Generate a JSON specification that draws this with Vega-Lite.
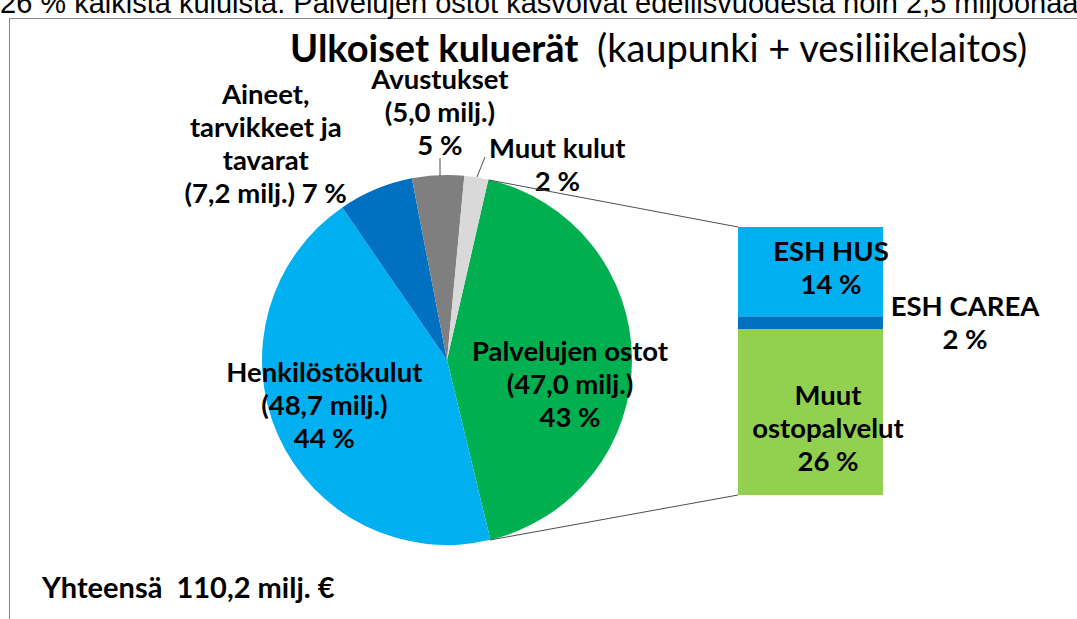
{
  "$schema": "https://vega.github.io/schema/vega-lite/v6.json",
  "width": 1068,
  "height": 601,
  "autosize": {"type": "none"},
  "padding": {"left": 9, "top": 18, "right": 0, "bottom": 0},
  "background": "white",
  "config": {"view": {"stroke": "#858585", "strokeWidth": 1}, "text": {"font": "Lato"}},
  "datasets": {
    "pie": [
      {"cat": "Palvelujen ostot", "ord": 1, "value": 47.0, "label": ["Palvelujen ostot", "(47,0 milj.)", "43 %"]},
      {"cat": "Henkilöstökulut", "ord": 2, "value": 48.7, "label": ["Henkilöstökulut", "(48,7 milj.)", "44 %"]},
      {"cat": "Aineet, tarvikkeet ja tavarat", "ord": 3, "value": 7.2, "label": ["Aineet,", "tarvikkeet ja", "tavarat", "(7,2 milj.) 7 %"]},
      {"cat": "Avustukset", "ord": 4, "value": 5.0, "label": ["Avustukset", "(5,0 milj.)", "5 %"]},
      {"cat": "Muut kulut", "ord": 5, "value": 2.3, "label": ["Muut kulut", "2 %"]}
    ],
    "bar": [
      {"cat": "Muut ostopalvelut", "ord": 1, "pct": 26, "label": ["Muut", "ostopalvelut", "26 %"]},
      {"cat": "ESH CAREA", "ord": 2, "pct": 2, "label": ["ESH CAREA", "2 %"]},
      {"cat": "ESH HUS", "ord": 3, "pct": 14, "label": ["ESH HUS", "14 %"]}
    ],
    "notes": [
      {"id": "title", "text": "Ulkoiset kuluerät"},
      {"id": "subtitle", "text": "(kaupunki + vesiliikelaitos)"},
      {"id": "total", "text": "Yhteensä\u00a0 110,2 milj. €"},
      {"id": "top", "text": "26 % kaikista kuluista. Palvelujen ostot kasvoivat edellisvuodesta noin 2,5 miljoonaa"}
    ]
  },
  "resolve": {"scale": {"y": "independent", "color": "independent"}},
  "layer": [
    {
      "layer": [
        {
          "data": {"name": "pie"},
          "mark": {"type": "arc", "outerRadius": 185},
          "encoding": {
            "x": {"datum": 447, "type": "quantitative", "scale": {"domain": [9, 1077], "nice": false, "zero": false}, "axis": null},
            "y": {"datum": 360, "type": "quantitative", "scale": {"domain": [18, 619], "reverse": true, "nice": false, "zero": false}, "axis": null},
            "theta": {"field": "value", "type": "quantitative", "stack": true, "scale": {"domain": [0, 110.2], "range": [0.225, 6.5082]}},
            "order": {"field": "ord", "type": "quantitative"},
            "color": {"field": "cat", "type": "nominal", "legend": null, "scale": {"domain": ["Palvelujen ostot", "Henkilöstökulut", "Aineet, tarvikkeet ja tavarat", "Avustukset", "Muut kulut"], "range": ["#00B050", "#00B0F0", "#0070C0", "#7F7F7F", "#D9D9D9"]}}
          }
        },
        {
          "data": {"name": "pie"},
          "mark": {"type": "text", "radius": 123, "dx": 0, "dy": -6, "fontSize": 27.5, "fontWeight": "bold", "lineHeight": 33, "align": "center", "baseline": "middle", "color": "black"},
          "encoding": {
            "x": {"datum": 447, "type": "quantitative", "scale": {"domain": [9, 1077], "nice": false, "zero": false}, "axis": null},
            "y": {"datum": 360, "type": "quantitative", "scale": {"domain": [18, 619], "reverse": true, "nice": false, "zero": false}, "axis": null},
            "theta": {"field": "value", "type": "quantitative", "stack": true, "scale": {"domain": [0, 110.2], "range": [0.225, 6.5082]}},
            "order": {"field": "ord", "type": "quantitative"},
            "text": {"condition": {"test": "datum.cat === 'Palvelujen ostot'", "field": "label"}, "value": ""}
          }
        },
        {
          "data": {"name": "pie"},
          "mark": {"type": "text", "radius": 131, "dx": -3, "dy": -39, "fontSize": 27.5, "fontWeight": "bold", "lineHeight": 33, "align": "center", "baseline": "middle", "color": "black"},
          "encoding": {
            "x": {"datum": 447, "type": "quantitative", "scale": {"domain": [9, 1077], "nice": false, "zero": false}, "axis": null},
            "y": {"datum": 360, "type": "quantitative", "scale": {"domain": [18, 619], "reverse": true, "nice": false, "zero": false}, "axis": null},
            "theta": {"field": "value", "type": "quantitative", "stack": true, "scale": {"domain": [0, 110.2], "range": [0.225, 6.5082]}},
            "order": {"field": "ord", "type": "quantitative"},
            "text": {"condition": {"test": "datum.cat === 'Henkilöstökulut'", "field": "label"}, "value": ""}
          }
        },
        {
          "data": {"name": "pie"},
          "mark": {"type": "text", "radius": 270, "dx": -77, "dy": -15, "fontSize": 27.5, "fontWeight": "bold", "lineHeight": 33, "align": "center", "baseline": "middle", "color": "black"},
          "encoding": {
            "x": {"datum": 447, "type": "quantitative", "scale": {"domain": [9, 1077], "nice": false, "zero": false}, "axis": null},
            "y": {"datum": 360, "type": "quantitative", "scale": {"domain": [18, 619], "reverse": true, "nice": false, "zero": false}, "axis": null},
            "theta": {"field": "value", "type": "quantitative", "stack": true, "scale": {"domain": [0, 110.2], "range": [0.225, 6.5082]}},
            "order": {"field": "ord", "type": "quantitative"},
            "text": {"condition": {"test": "datum.cat === 'Aineet, tarvikkeet ja tavarat'", "field": "label"}, "value": ""}
          }
        },
        {
          "data": {"name": "pie"},
          "mark": {"type": "text", "radius": 249, "dx": 5, "dy": -30, "fontSize": 27.5, "fontWeight": "bold", "lineHeight": 33, "align": "center", "baseline": "middle", "color": "black"},
          "encoding": {
            "x": {"datum": 447, "type": "quantitative", "scale": {"domain": [9, 1077], "nice": false, "zero": false}, "axis": null},
            "y": {"datum": 360, "type": "quantitative", "scale": {"domain": [18, 619], "reverse": true, "nice": false, "zero": false}, "axis": null},
            "theta": {"field": "value", "type": "quantitative", "stack": true, "scale": {"domain": [0, 110.2], "range": [0.225, 6.5082]}},
            "order": {"field": "ord", "type": "quantitative"},
            "text": {"condition": {"test": "datum.cat === 'Avustukset'", "field": "label"}, "value": ""}
          }
        },
        {
          "data": {"name": "pie"},
          "mark": {"type": "text", "radius": 210, "dx": 77, "dy": -3, "fontSize": 27.5, "fontWeight": "bold", "lineHeight": 33, "align": "center", "baseline": "middle", "color": "black"},
          "encoding": {
            "x": {"datum": 447, "type": "quantitative", "scale": {"domain": [9, 1077], "nice": false, "zero": false}, "axis": null},
            "y": {"datum": 360, "type": "quantitative", "scale": {"domain": [18, 619], "reverse": true, "nice": false, "zero": false}, "axis": null},
            "theta": {"field": "value", "type": "quantitative", "stack": true, "scale": {"domain": [0, 110.2], "range": [0.225, 6.5082]}},
            "order": {"field": "ord", "type": "quantitative"},
            "text": {"condition": {"test": "datum.cat === 'Muut kulut'", "field": "label"}, "value": ""}
          }
        },
        {
          "data": {"name": "pie"},
          "transform": [{"filter": "datum.cat === 'Palvelujen ostot'"}],
          "mark": {"type": "rule", "color": "#4d4d4d", "strokeWidth": 1},
          "encoding": {
            "x": {"datum": 489, "type": "quantitative", "scale": {"domain": [9, 1077], "nice": false, "zero": false}, "axis": null},
            "x2": {"datum": 738},
            "y": {"datum": 180, "type": "quantitative", "scale": {"domain": [18, 619], "reverse": true, "nice": false, "zero": false}, "axis": null},
            "y2": {"datum": 227}
          }
        },
        {
          "data": {"name": "pie"},
          "transform": [{"filter": "datum.cat === 'Palvelujen ostot'"}],
          "mark": {"type": "rule", "color": "#4d4d4d", "strokeWidth": 1},
          "encoding": {
            "x": {"datum": 490, "type": "quantitative", "scale": {"domain": [9, 1077], "nice": false, "zero": false}, "axis": null},
            "x2": {"datum": 738},
            "y": {"datum": 540, "type": "quantitative", "scale": {"domain": [18, 619], "reverse": true, "nice": false, "zero": false}, "axis": null},
            "y2": {"datum": 495}
          }
        },
        {
          "data": {"name": "pie"},
          "transform": [{"filter": "datum.cat === 'Avustukset'"}],
          "mark": {"type": "rule", "color": "#4d4d4d", "strokeWidth": 1},
          "encoding": {
            "x": {"datum": 440, "type": "quantitative", "scale": {"domain": [9, 1077], "nice": false, "zero": false}, "axis": null},
            "x2": {"datum": 440},
            "y": {"datum": 158, "type": "quantitative", "scale": {"domain": [18, 619], "reverse": true, "nice": false, "zero": false}, "axis": null},
            "y2": {"datum": 176}
          }
        },
        {
          "data": {"name": "pie"},
          "transform": [{"filter": "datum.cat === 'Muut kulut'"}],
          "mark": {"type": "rule", "color": "#4d4d4d", "strokeWidth": 1},
          "encoding": {
            "x": {"datum": 485, "type": "quantitative", "scale": {"domain": [9, 1077], "nice": false, "zero": false}, "axis": null},
            "x2": {"datum": 477},
            "y": {"datum": 157, "type": "quantitative", "scale": {"domain": [18, 619], "reverse": true, "nice": false, "zero": false}, "axis": null},
            "y2": {"datum": 177}
          }
        },
        {
          "data": {"name": "notes"},
          "transform": [{"filter": "datum.id === 'title'"}],
          "mark": {"type": "text", "fontSize": 38, "fontWeight": "bold", "align": "left", "baseline": "alphabetic", "color": "black"},
          "encoding": {
            "x": {"datum": 290, "type": "quantitative", "scale": {"domain": [9, 1077], "nice": false, "zero": false}, "axis": null},
            "y": {"datum": 62, "type": "quantitative", "scale": {"domain": [18, 619], "reverse": true, "nice": false, "zero": false}, "axis": null},
            "text": {"field": "text"}
          }
        },
        {
          "data": {"name": "notes"},
          "transform": [{"filter": "datum.id === 'subtitle'"}],
          "mark": {"type": "text", "fontSize": 38, "fontWeight": "normal", "align": "left", "baseline": "alphabetic", "color": "black"},
          "encoding": {
            "x": {"datum": 597, "type": "quantitative", "scale": {"domain": [9, 1077], "nice": false, "zero": false}, "axis": null},
            "y": {"datum": 62, "type": "quantitative", "scale": {"domain": [18, 619], "reverse": true, "nice": false, "zero": false}, "axis": null},
            "text": {"field": "text"}
          }
        },
        {
          "data": {"name": "notes"},
          "transform": [{"filter": "datum.id === 'total'"}],
          "mark": {"type": "text", "fontSize": 29, "fontWeight": "bold", "align": "left", "baseline": "middle", "color": "black"},
          "encoding": {
            "x": {"datum": 42, "type": "quantitative", "scale": {"domain": [9, 1077], "nice": false, "zero": false}, "axis": null},
            "y": {"datum": 589, "type": "quantitative", "scale": {"domain": [18, 619], "reverse": true, "nice": false, "zero": false}, "axis": null},
            "text": {"field": "text"}
          }
        },
        {
          "data": {"name": "notes"},
          "transform": [{"filter": "datum.id === 'top'"}],
          "mark": {"type": "text", "font": "Liberation Sans", "fontSize": 29, "align": "left", "baseline": "alphabetic", "color": "black"},
          "encoding": {
            "x": {"datum": 0, "type": "quantitative", "scale": {"domain": [9, 1077], "nice": false, "zero": false}, "axis": null},
            "y": {"datum": 13, "type": "quantitative", "scale": {"domain": [18, 619], "reverse": true, "nice": false, "zero": false}, "axis": null},
            "text": {"field": "text"}
          }
        }
      ]
    },
    {
      "data": {"name": "bar"},
      "transform": [{"stack": "pct", "groupby": [], "sort": [{"field": "ord", "order": "ascending"}], "as": ["p0", "p1"]}],
      "layer": [
        {
          "mark": {"type": "bar"},
          "encoding": {
            "x": {"datum": 738, "type": "quantitative", "scale": {"domain": [9, 1077], "nice": false, "zero": false}, "axis": null},
            "x2": {"datum": 883},
            "y": {"field": "p0", "type": "quantitative", "scale": {"domain": [-19.432, 74.753], "nice": false, "zero": false}, "axis": null},
            "y2": {"field": "p1"},
            "color": {"field": "cat", "type": "nominal", "legend": null, "scale": {"domain": ["Muut ostopalvelut", "ESH CAREA", "ESH HUS"], "range": ["#92D050", "#0070C0", "#00B0F0"]}}
          }
        },
        {
          "transform": [{"filter": "datum.cat === 'ESH HUS'"}],
          "mark": {"type": "text", "dy": 26, "fontSize": 27.5, "fontWeight": "bold", "lineHeight": 33, "align": "center", "baseline": "middle", "color": "black"},
          "encoding": {
            "x": {"datum": 831, "type": "quantitative", "scale": {"domain": [9, 1077], "nice": false, "zero": false}, "axis": null},
            "y": {"field": "p1", "type": "quantitative", "scale": {"domain": [-19.432, 74.753], "nice": false, "zero": false}, "axis": null},
            "text": {"field": "label"}
          }
        },
        {
          "transform": [{"filter": "datum.cat === 'ESH CAREA'"}],
          "mark": {"type": "text", "dy": -8, "fontSize": 27.5, "fontWeight": "bold", "lineHeight": 33, "align": "center", "baseline": "middle", "color": "black"},
          "encoding": {
            "x": {"datum": 965, "type": "quantitative", "scale": {"domain": [9, 1077], "nice": false, "zero": false}, "axis": null},
            "y": {"field": "p1", "type": "quantitative", "scale": {"domain": [-19.432, 74.753], "nice": false, "zero": false}, "axis": null},
            "text": {"field": "label"}
          }
        },
        {
          "transform": [{"filter": "datum.cat === 'Muut ostopalvelut'"}],
          "mark": {"type": "text", "dy": 68, "fontSize": 27.5, "fontWeight": "bold", "lineHeight": 33, "align": "center", "baseline": "middle", "color": "black"},
          "encoding": {
            "x": {"datum": 828, "type": "quantitative", "scale": {"domain": [9, 1077], "nice": false, "zero": false}, "axis": null},
            "y": {"field": "p1", "type": "quantitative", "scale": {"domain": [-19.432, 74.753], "nice": false, "zero": false}, "axis": null},
            "text": {"field": "label"}
          }
        }
      ]
    }
  ]
}
